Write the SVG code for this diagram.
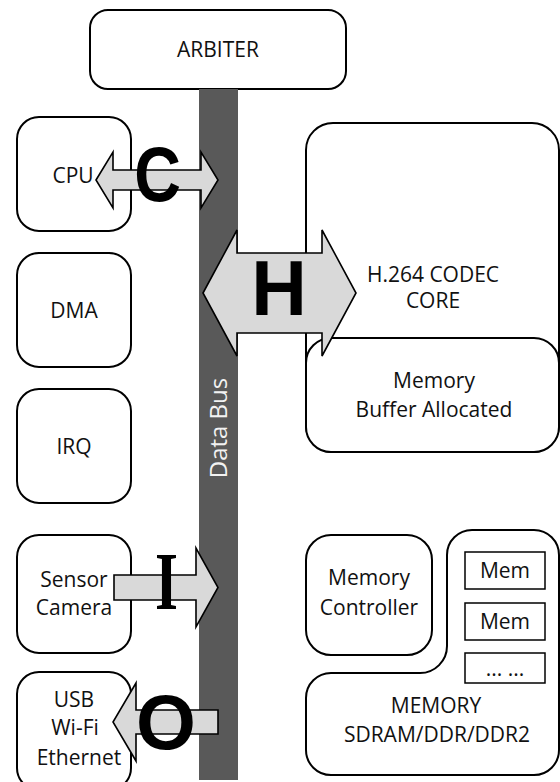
<svg xmlns="http://www.w3.org/2000/svg" width="560" height="782" viewBox="0 0 560 782">
<style>
.box{fill:#fff;stroke:#000;stroke-width:2}
.mem{fill:#fff;stroke:#000;stroke-width:1.5}
.t{font-family:"Open Sans","Liberation Sans",sans-serif;font-size:21px;fill:#111;text-anchor:middle}
.arr{fill:#d9d9d9;stroke:#000;stroke-width:1.6;stroke-linejoin:miter}
.big{font-family:"Liberation Sans",Arial,sans-serif;font-weight:bold;font-size:77px;fill:#000;text-anchor:middle}
.bigs{font-family:"Liberation Serif","Times New Roman",serif;font-weight:bold;font-size:82px;fill:#000;text-anchor:middle}
</style>
<rect width="560" height="782" fill="#fff"/>
<g id="arbiter"><rect class="box" x="90" y="10" width="256" height="79" rx="18"/><text class="t" x="218" y="57">ARBITER</text></g>
<g id="databus"><rect x="199" y="89" width="39" height="691" fill="#595959"/><text class="t" transform="translate(227,428) rotate(-90)" x="0" y="0" style="fill:#f2f2f2;font-size:24px">Data Bus</text></g>
<g id="cpu"><rect class="box" x="17" y="117" width="114" height="114" rx="22"/><text class="t" x="73" y="183">CPU</text></g>
<g id="dma"><rect class="box" x="17" y="253" width="114" height="114" rx="22"/><text class="t" x="74" y="318">DMA</text></g>
<g id="irq"><rect class="box" x="17" y="389" width="114" height="114" rx="22"/><text class="t" x="74" y="454">IRQ</text></g>
<g id="sensor"><rect class="box" x="17" y="535" width="114" height="118" rx="22"/><text class="t" x="74" y="587">Sensor</text><text class="t" x="74" y="615">Camera</text></g>
<g id="io"><rect class="box" x="17" y="672" width="114" height="118" rx="22"/><text class="t" x="74" y="707">USB</text><text class="t" x="75" y="735">Wi-Fi</text><text class="t" x="79" y="765">Ethernet</text></g>
<g id="codec"><rect class="box" x="306" y="123" width="253" height="329" rx="27"/><text class="t" x="433" y="282">H.264 CODEC</text><text class="t" x="433" y="308">CORE</text></g>
<g id="buffer"><rect class="box" x="306" y="338" width="253" height="114" rx="25"/><text class="t" x="434" y="388">Memory</text><text class="t" x="434" y="417">Buffer Allocated</text></g>
<g id="memctrl"><rect class="box" x="306" y="535" width="126" height="120" rx="25"/><text class="t" x="369" y="585">Memory</text><text class="t" x="369" y="615">Controller</text></g>
<g id="memory"><path class="box" d="M472,530 H534 A25,25 0 0 1 559,555 V750 A25,25 0 0 1 534,775 H331 A25,25 0 0 1 306,750 V698 A25,25 0 0 1 331,673 H420 A27,27 0 0 0 447,646 V555 A25,25 0 0 1 472,530 Z"/><text class="t" x="436" y="713">MEMORY</text><text class="t" x="437" y="742">SDRAM/DDR/DDR2</text>
<rect class="mem" x="465" y="552" width="80" height="37"/><text class="t" x="505" y="578">Mem</text>
<rect class="mem" x="465" y="603" width="80" height="37"/><text class="t" x="505" y="629">Mem</text>
<rect class="mem" x="465" y="653" width="80" height="30"/><text class="t" x="505" y="676">... ...</text></g>
<g id="connectors">
<path class="arr" d="M96,180 L113,152 L113,170 L201,170 L201,152 L218,180 L201,208 L201,190 L113,190 L113,208 Z"/>
<text class="big" transform="translate(157.5,201) scale(0.84,1)" x="0" y="0">C</text>
<path class="arr" d="M203,293 L237,230 L237,253 L322,253 L322,230 L356,293 L322,356 L322,333 L237,333 L237,356 Z"/>
<text class="big" x="279" y="315">H</text>
<path class="arr" d="M114,575 L196,575 L196,548 L218,587.5 L196,627 L196,600 L114,600 Z"/>
<text class="bigs" transform="translate(166.5,609) scale(0.72,1)" x="0" y="0">I</text>
<path class="arr" d="M218,710 L136,710 L136,683 L113,722 L136,761 L136,734 L218,734 Z"/>
<text class="big" x="166" y="749">O</text>
</g>
</svg>
